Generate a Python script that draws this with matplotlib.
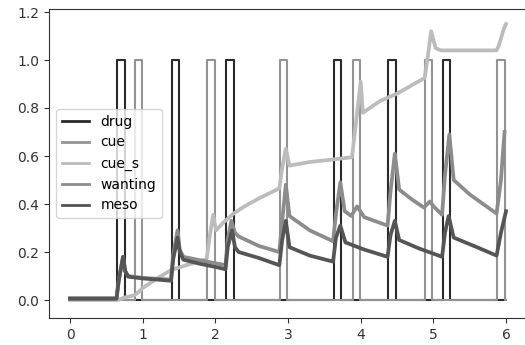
import numpy as np
import matplotlib
matplotlib.use('Agg')
import matplotlib.pyplot as plt

# pulse onsets (width 0.1)
drug_on = [0.65, 1.40, 2.15, 3.63, 4.38, 5.13]
cue_on = [0.89, 1.89, 2.89, 3.89, 4.88, 5.88]
pulse_w = 0.1
t_end = 6.0

# noisy traces
cue_s_t = [0.0, 0.65, 0.75, 0.89, 0.95, 1.0, 1.1, 1.2, 1.39, 1.6, 1.88, 1.93, 1.97, 2.01, 2.1,
           2.25, 2.4, 2.61, 2.88, 2.92, 2.97, 3.02, 3.3, 3.6, 3.88, 3.94, 4.0, 4.03, 4.27, 4.5,
           4.88, 4.93, 4.97, 5.03, 5.1, 5.5, 5.87, 5.9, 5.97, 6.0]
cue_s_v = [0.0, 0.0, 0.01, 0.02, 0.035, 0.05, 0.07, 0.09, 0.125, 0.145, 0.17, 0.28, 0.355, 0.29, 0.32,
           0.36, 0.39, 0.425, 0.465, 0.55, 0.63, 0.56, 0.575, 0.585, 0.595, 0.75, 0.91, 0.78, 0.83, 0.86,
           0.925, 1.03, 1.12, 1.05, 1.04, 1.04, 1.04, 1.06, 1.13, 1.15]

wanting_t = [0.0, 0.64, 0.67, 0.73, 0.76, 0.80, 1.0, 1.39, 1.42, 1.48, 1.51, 1.56, 1.8, 2.14,
             2.17, 2.22, 2.27, 2.32, 2.6, 2.88, 2.92, 2.97, 3.02, 3.3, 3.62, 3.66, 3.72, 3.78,
             3.87, 3.95, 4.05, 4.37, 4.41, 4.47, 4.53, 4.7, 4.87, 4.95, 5.02, 5.12, 5.16, 5.22,
             5.28, 5.5, 5.87, 5.93, 5.98]
wanting_v = [0.008, 0.008, 0.08, 0.18, 0.12, 0.1, 0.092, 0.085, 0.19, 0.29, 0.21, 0.18, 0.165, 0.145,
             0.25, 0.33, 0.28, 0.265, 0.225, 0.2, 0.33, 0.48, 0.35, 0.29, 0.245, 0.36, 0.49, 0.37,
             0.35, 0.39, 0.345, 0.31, 0.45, 0.61, 0.46, 0.42, 0.385, 0.41, 0.385, 0.355, 0.52, 0.69,
             0.5, 0.44, 0.36, 0.5, 0.70]

meso_t = [0.0, 0.64, 0.67, 0.73, 0.76, 0.80, 1.0, 1.2, 1.39, 1.42, 1.48, 1.51, 1.56, 1.8, 2.0,
          2.14, 2.17, 2.23, 2.27, 2.32, 2.6, 2.88, 2.92, 2.97, 3.02, 3.3, 3.62, 3.66, 3.72, 3.79,
          4.05, 4.37, 4.41, 4.47, 4.53, 4.8, 5.12, 5.16, 5.21, 5.28, 5.6, 5.87, 5.93, 6.0]
meso_v = [0.005, 0.005, 0.08, 0.18, 0.12, 0.097, 0.09, 0.085, 0.08, 0.17, 0.26, 0.2, 0.168, 0.15, 0.138,
          0.128, 0.22, 0.29, 0.22, 0.2, 0.175, 0.145, 0.25, 0.33, 0.22, 0.185, 0.16, 0.26, 0.31, 0.24,
          0.21, 0.18, 0.27, 0.33, 0.25, 0.215, 0.18, 0.28, 0.35, 0.26, 0.22, 0.185, 0.28, 0.37]


def pulses(onsets, w, t_end):
    # square pulse train as step coordinates
    t = [0.0]
    v = [0.0]
    for on in onsets:
        t += [on, on, on + w, on + w]
        v += [0.0, 1.0, 1.0, 0.0]
    t.append(t_end)
    v.append(0.0)
    return t, v


drug_t, drug_v = pulses(drug_on, pulse_w, t_end)
cue_t, cue_v = pulses(cue_on, pulse_w, t_end)

fig = plt.figure(figsize=(5.25, 3.45), dpi=100)
# right edge of the axes lies outside the picture (cropped like the original)
ax = fig.add_axes([49 / 525, 27 / 345, (534 - 49) / 525, (318 - 9) / 345])

ax.plot(drug_t, drug_v, color='#2a2a2a', lw=1.5, label='drug')
ax.plot(cue_t, cue_v, color='#939393', lw=1.5, label='cue')
ax.plot(cue_s_t, cue_s_v, color='#bcbcbc', lw=2.7, label='cue_s')
ax.plot(wanting_t, wanting_v, color='#8c8c8c', lw=2.7, label='wanting')
ax.plot(meso_t, meso_v, color='#555555', lw=2.7, label='meso')

# keep 0..6 at the same pixels as the reference
ax.set_xlim(-0.289, -0.289 + (534 - 49) / 72.67)
ax.set_ylim(-0.075, 1.2125)
ax.set_xticks([0, 1, 2, 3, 4, 5, 6])
ax.set_yticks([0.0, 0.2, 0.4, 0.6, 0.8, 1.0, 1.2])
ax.tick_params(labelsize=10, colors='#333333')
for s in ax.spines.values():
    s.set_color('#333333')

leg = ax.legend(loc='center left', fontsize=10)
for line in leg.get_lines():
    line.set_linewidth(2)

fig.savefig('out.png', dpi=100)
